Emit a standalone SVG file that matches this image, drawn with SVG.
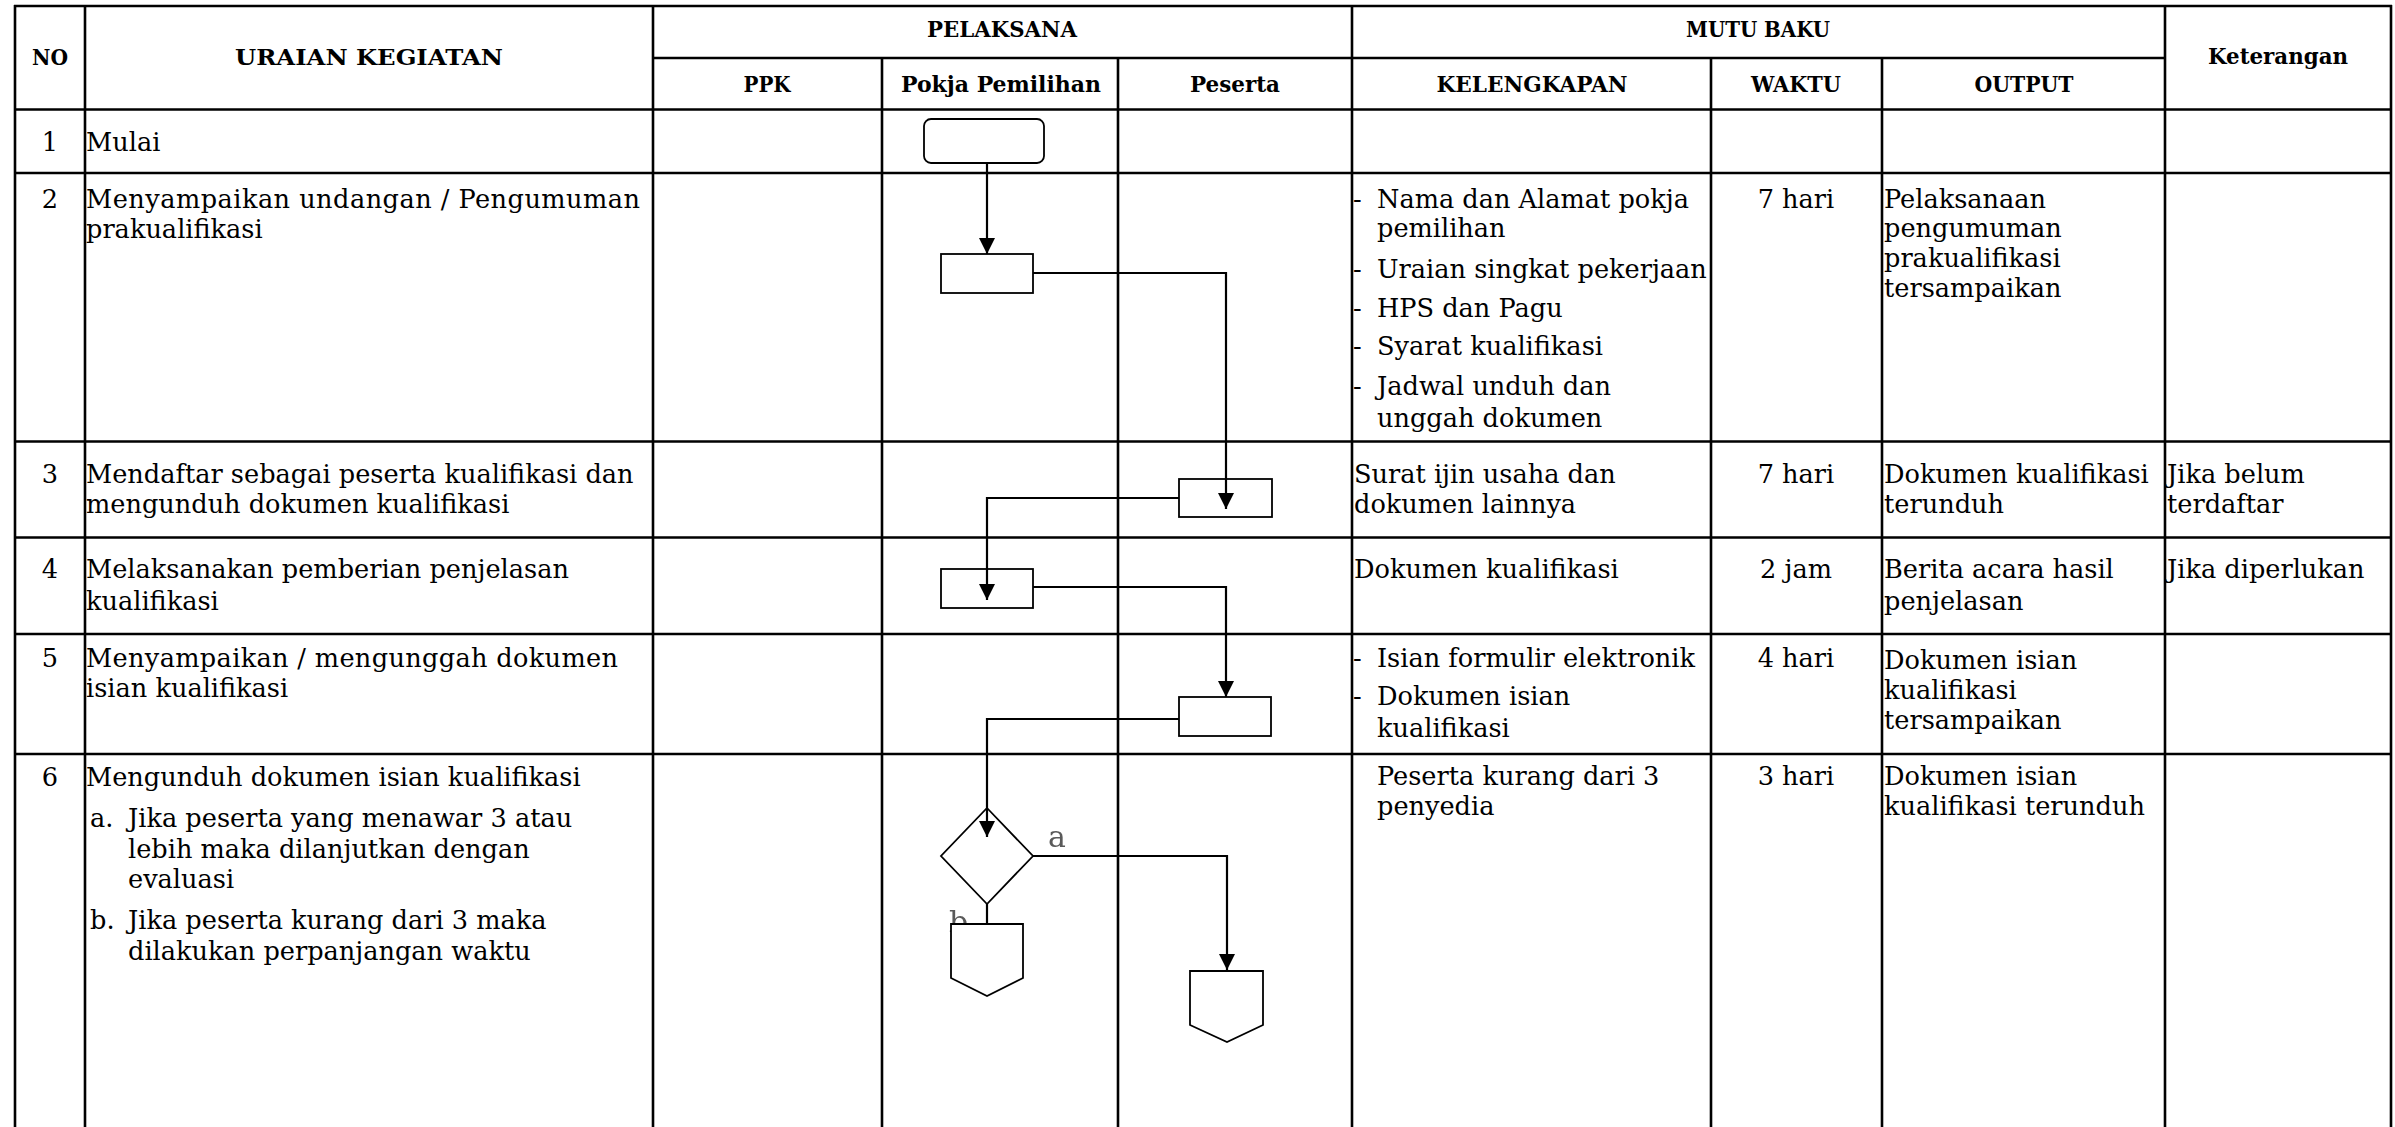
<svg xmlns="http://www.w3.org/2000/svg" width="2395" height="1127" viewBox="0 0 2395 1127">
  <style>
    .grid line { stroke: #000; stroke-width: 2.6; }
    .th { font-family: "DejaVu Serif", "Liberation Serif", serif; font-weight: bold; fill: #000; text-anchor: middle; font-size: 21.5px; }
    .th.big { font-size: 23px; }
    .td { font-family: "DejaVu Serif", "Liberation Serif", serif; font-size: 25.6px; fill: #000; }
    .c { text-anchor: middle; }
    .shape { fill: #fff; stroke: #000; stroke-width: 1.8; }
    .conn { fill: none; stroke: #000; stroke-width: 2.2; }
    .lbl { font-family: "DejaVu Serif", "Liberation Serif", serif; font-size: 30px; fill: #5a5a5a; filter: url(#soft); }
  </style>
  <defs>
    <marker id="arrow" viewBox="0 0 16 16" refX="16" refY="8" markerWidth="16" markerHeight="16" markerUnits="userSpaceOnUse" orient="auto">
      <path d="M0,0 L16,8 L0,16 z" fill="#000"/>
    </marker>
    <filter id="soft" x="-20%" y="-20%" width="140%" height="140%">
      <feGaussianBlur stdDeviation="0.7"/>
    </filter>
  </defs>

  <rect width="2395" height="1127" fill="#fff"/>

  <!-- table grid -->
  <g id="table-grid" class="grid">
    <line x1="14" y1="6" x2="2392" y2="6"/>
    <line x1="653" y1="58" x2="2165" y2="58"/>
    <line x1="14" y1="109.5" x2="2392" y2="109.5"/>
    <line x1="14" y1="173" x2="2392" y2="173"/>
    <line x1="14" y1="441.5" x2="2392" y2="441.5"/>
    <line x1="14" y1="537.5" x2="2392" y2="537.5"/>
    <line x1="14" y1="634" x2="2392" y2="634"/>
    <line x1="14" y1="754" x2="2392" y2="754"/>
    <line x1="15" y1="5" x2="15" y2="1130"/>
    <line x1="85" y1="5" x2="85" y2="1130"/>
    <line x1="653" y1="5" x2="653" y2="1130"/>
    <line x1="882" y1="58" x2="882" y2="1130"/>
    <line x1="1118" y1="58" x2="1118" y2="1130"/>
    <line x1="1352" y1="5" x2="1352" y2="1130"/>
    <line x1="1711" y1="58" x2="1711" y2="1130"/>
    <line x1="1882" y1="58" x2="1882" y2="1130"/>
    <line x1="2165" y1="5" x2="2165" y2="1130"/>
    <line x1="2391" y1="5" x2="2391" y2="1130"/>
  </g>

  <!-- header -->
  <g id="header">
    <text class="th big" x="50" y="65" textLength="36" lengthAdjust="spacingAndGlyphs">NO</text>
    <text class="th big" x="369" y="65" textLength="268" lengthAdjust="spacingAndGlyphs">URAIAN KEGIATAN</text>
    <text class="th" x="1002" y="37" textLength="150" lengthAdjust="spacingAndGlyphs">PELAKSANA</text>
    <text class="th" x="1758" y="37" textLength="144" lengthAdjust="spacingAndGlyphs">MUTU BAKU</text>
    <text class="th" x="2278" y="64" font-size="22" textLength="140" lengthAdjust="spacingAndGlyphs">Keterangan</text>
    <text class="th" x="767" y="92" textLength="47" lengthAdjust="spacingAndGlyphs">PPK</text>
    <text class="th" x="1001" y="92" textLength="200" lengthAdjust="spacingAndGlyphs">Pokja Pemilihan</text>
    <text class="th" x="1235" y="92" textLength="90" lengthAdjust="spacingAndGlyphs">Peserta</text>
    <text class="th" x="1532" y="92" textLength="191" lengthAdjust="spacingAndGlyphs">KELENGKAPAN</text>
    <text class="th" x="1796" y="92" textLength="90" lengthAdjust="spacingAndGlyphs">WAKTU</text>
    <text class="th" x="2024" y="92" textLength="99" lengthAdjust="spacingAndGlyphs">OUTPUT</text>
  </g>

  <!-- row 1 -->
  <g id="row-1" class="td">
    <text class="c" x="50" y="151">1</text>
    <text x="86" y="151">Mulai</text>
  </g>

  <!-- row 2 -->
  <g id="row-2" class="td">
    <text class="c" x="50" y="208">2</text>
    <text x="86" y="208" textLength="554">Menyampaikan undangan / Pengumuman</text>
    <text x="86" y="238">prakualifikasi</text>
    <text x="1353" y="208">-</text><text x="1377" y="208">Nama dan Alamat pokja</text>
    <text x="1377" y="237">pemilihan</text>
    <text x="1353" y="278">-</text><text x="1377" y="278">Uraian singkat pekerjaan</text>
    <text x="1353" y="317">-</text><text x="1377" y="317">HPS dan Pagu</text>
    <text x="1353" y="355">-</text><text x="1377" y="355">Syarat kualifikasi</text>
    <text x="1353" y="395">-</text><text x="1377" y="395">Jadwal unduh dan</text>
    <text x="1377" y="427">unggah dokumen</text>
    <text class="c" x="1796" y="208">7 hari</text>
    <text x="1884" y="208">Pelaksanaan</text>
    <text x="1884" y="237">pengumuman</text>
    <text x="1884" y="267">prakualifikasi</text>
    <text x="1884" y="297">tersampaikan</text>
  </g>

  <!-- row 3 -->
  <g id="row-3" class="td">
    <text class="c" x="50" y="483">3</text>
    <text x="86" y="483">Mendaftar sebagai peserta kualifikasi dan</text>
    <text x="86" y="513">mengunduh dokumen kualifikasi</text>
    <text x="1354" y="483">Surat ijin usaha dan</text>
    <text x="1354" y="513">dokumen lainnya</text>
    <text class="c" x="1796" y="483">7 hari</text>
    <text x="1884" y="483">Dokumen kualifikasi</text>
    <text x="1884" y="513">terunduh</text>
    <text x="2167" y="483">Jika belum</text>
    <text x="2167" y="513">terdaftar</text>
  </g>

  <!-- row 4 -->
  <g id="row-4" class="td">
    <text class="c" x="50" y="578">4</text>
    <text x="86" y="578">Melaksanakan pemberian penjelasan</text>
    <text x="86" y="610">kualifikasi</text>
    <text x="1354" y="578">Dokumen kualifikasi</text>
    <text class="c" x="1796" y="578">2 jam</text>
    <text x="1884" y="578">Berita acara hasil</text>
    <text x="1884" y="610">penjelasan</text>
    <text x="2167" y="578">Jika diperlukan</text>
  </g>

  <!-- row 5 -->
  <g id="row-5" class="td">
    <text class="c" x="50" y="667">5</text>
    <text x="86" y="667" textLength="532">Menyampaikan / mengunggah dokumen</text>
    <text x="86" y="697">isian kualifikasi</text>
    <text x="1353" y="667">-</text><text x="1377" y="667">Isian formulir elektronik</text>
    <text x="1353" y="705">-</text><text x="1377" y="705">Dokumen isian</text>
    <text x="1377" y="737">kualifikasi</text>
    <text class="c" x="1796" y="667">4 hari</text>
    <text x="1884" y="669">Dokumen isian</text>
    <text x="1884" y="699">kualifikasi</text>
    <text x="1884" y="729">tersampaikan</text>
  </g>

  <!-- row 6 -->
  <g id="row-6" class="td">
    <text class="c" x="50" y="786">6</text>
    <text x="86" y="786">Mengunduh dokumen isian kualifikasi</text>
    <text x="90" y="827">a.</text><text x="128" y="827">Jika peserta yang menawar 3 atau</text>
    <text x="128" y="858">lebih maka dilanjutkan dengan</text>
    <text x="128" y="888">evaluasi</text>
    <text x="90" y="929">b.</text><text x="128" y="929">Jika peserta kurang dari 3 maka</text>
    <text x="128" y="960">dilakukan perpanjangan waktu</text>
    <text x="1377" y="785">Peserta kurang dari 3</text>
    <text x="1377" y="815">penyedia</text>
    <text class="c" x="1796" y="785">3 hari</text>
    <text x="1884" y="785">Dokumen isian</text>
    <text x="1884" y="815">kualifikasi terunduh</text>
  </g>

  <!-- connectors -->
  <g id="connectors">
    <path class="conn" d="M987,163 V254" marker-end="url(#arrow)"/>
    <path class="conn" d="M1033,273 H1226 V509" marker-end="url(#arrow)"/>
    <path class="conn" d="M1179,498 H987 V600" marker-end="url(#arrow)"/>
    <path class="conn" d="M1033,587 H1226 V697" marker-end="url(#arrow)"/>
    <path class="conn" d="M1179,719 H987 V837" marker-end="url(#arrow)"/>
    <path class="conn" d="M1033,856 H1227 V970" marker-end="url(#arrow)"/>
    <path class="conn" d="M987,904 V924"/>
    <text class="lbl" x="1048" y="847">a</text>
    <text class="lbl" x="949" y="932">b</text>
  </g>

  <!-- flow nodes -->
  <g id="node-start"><rect class="shape" x="924" y="119" width="120" height="44" rx="7"/></g>
  <g id="node-announce"><rect class="shape" x="941" y="254" width="92" height="39"/></g>
  <g id="node-register"><rect class="shape" x="1179" y="479" width="93" height="38" fill-opacity="0"/></g>
  <g id="node-explain"><rect class="shape" x="941" y="569" width="92" height="39" fill-opacity="0"/></g>
  <g id="node-upload"><rect class="shape" x="1179" y="697" width="92" height="39"/></g>
  <g id="node-decision"><polygon class="shape" points="987,808 1033,856 987,904 941,856" fill-opacity="0"/></g>
  <g id="node-offpage-b"><polygon class="shape" points="951,924 1023,924 1023,978 987,996 951,978"/></g>
  <g id="node-offpage-a"><polygon class="shape" points="1190,971 1263,971 1263,1025 1227,1042 1190,1025"/></g>
</svg>
